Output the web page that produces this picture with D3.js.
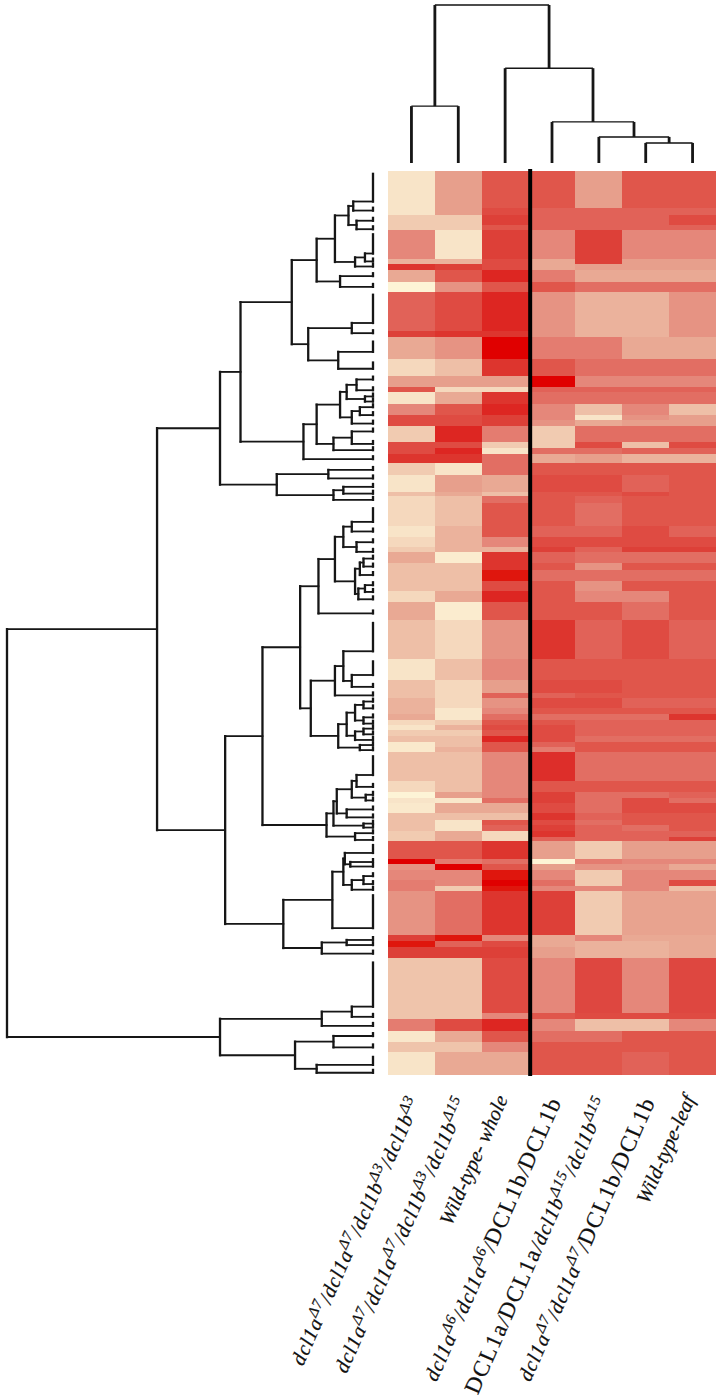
<!DOCTYPE html>
<html><head><meta charset="utf-8">
<style>html,body{margin:0;padding:0;background:#fff}svg{display:block}</style>
<script src="https://cdn.jsdelivr.net/npm/d3@7/dist/d3.min.js"></script>
</head><body><div id="c"></div>
<script>
// Sample labels; ^...^ marks a superscript
const sampleLabels = [
  "dcl1a^Δ7^/dcl1a^Δ7^/dcl1b^Δ3^/dcl1b^Δ3^",
  "dcl1a^Δ7^/dcl1a^Δ7^/dcl1b^Δ3^/dcl1b^Δ15^",
  "Wild-type- whole",
  "dcl1a^Δ6^/dcl1a^Δ6^/DCL1b/DCL1b",
  "DCL1a/DCL1a/dcl1b^Δ15^/dcl1b^Δ15^",
  "dcl1a^Δ7^/dcl1a^Δ7^/DCL1b/DCL1b",
  "Wild-type-leaf"
];
// Colour ramp on the 0-10 expression value
const rampValues = [0,1,2,3,4,5,6,7,8,9,10];
const rampColors = ["#fdf4d6","#f8e4c8","#f1cbb1","#ebb29c","#e79f8c","#e5877a","#e26e63","#e0564c","#dd4039","#dd2822","#e00500"];
// Gene row at which each consecutive band of equal values ends (aligned with bandValues)
const bandEnds = [6.6,7.7,9.6,10.5,15.5,16.5,17.5,19.6,21.5,28.3,29.3,33.3,36.2,38.2,39.1,41.3,43.1,44.1,45.1,48.0,49.1,50,51.7,53.8,
  56.9,57.6,58.8,62.9,64.7,66.6,67.5,69.4,70.6,72.5,74.4,76.3,79.5,86.4,90.1,92.4,93.3,95.1,96.1,97.1,98.0,98.9,100,101,102,102.9,108,
  109.9,110.9,111.8,113.7,114.9,115.8,116.8,117.8,118.6,121.7,122.7,123.7,125.5,126.5,127.4,135.2,136.3,137.4,139.3,149.1,150,152.2,154.1,155.9,160];
// Values per band, columns in sample order
const bandValues = [
[1,4,7,7,4,7,7],[1,4,7.5,6.5,6.5,6.5,6.5],[2,2,8,6.5,6.5,6.5,7.5],[2,2,7,6.5,6.5,6.5,6.5],
[5,1,8,5,8,5,5],[3,3,7.5,3.5,8,4,4],[8.5,8,7.5,3.5,4,4,4],[3.5,7,9,5.5,3.5,3.5,3.5],[0,4.5,7,7,6,6,6],
[6.5,7.5,9,4.5,3,3,4.5],[8,8.5,8.5,4.5,3,3,4.5],[3.5,4.5,10,5.5,5.5,3.5,3.5],[1.5,2.5,8.5,7,6,6,6],
[4,4,4,10,5,5,5],[7,1.5,1.5,6.5,6.5,6.5,6.5],[1,3.5,8.5,6,6,6,6],[5,7,9,5,2.5,5,2.5],[7.5,7.5,8,5,1,4.5,4],
[7.5,7.5,8,4.5,3.5,4,4],[2,9,5.5,2,6,6,6],[7.5,7.5,2,2,7.5,2.5,7.5],[7.5,9,1,6,6,6.5,6.5],[8.5,8.5,6,3.5,4,3,3],
[2,1,6,7,7,7,7],
[1,4,3.5,7.5,7.5,6.5,7],[2.5,3.5,2.5,7,7,7.5,7],[1.5,2.5,6,7,6.5,7,7],
[1.5,2.5,7,7,6,7,7],[1,3,7,6.5,6.5,7.5,6.5],[1.5,3,5,7.5,7.5,7.5,7.5],[2,3,3,8,6.5,8,8],[3.5,0.5,8.5,6.5,6,6,6],
[2.5,2.5,8.5,7,4.5,7,7],[2.5,2.5,9.5,6,6,6,6],[2.5,2.5,7.5,7,4.5,7,7],[1.5,3.5,9,7,5,5,7],[3.5,0.5,7,7,7,6,7],
[2.5,1.5,4.5,8.5,6.5,7.5,6.5],[1,2.5,5,7,7,7,7],[2.5,1.5,4,7.5,7.5,7,7],[2.5,1.5,6.5,6.5,7,7,7],[3,1.5,4.5,7.5,7.5,6.5,6.5],
[3,0.8,5,7,7,7,7],[3.5,0.8,6,6,6,6,8.5],[1.5,2,7,7,6.5,6.5,6.5],[1,3,7.5,7.5,6.5,6.5,6.5],[2,2,7,7.5,6.5,6.5,6.5],
[2.5,2.5,9,7.5,6,6,6],[0.7,2.5,7,6.5,7,7,7],[0.7,3,7,5.5,7,7,7],[2.5,2.5,5,8.7,6,6,6],
[1.5,2.5,5,7,7,7,7],[0,4,5,8,6,6,6.5],[1,0.8,6,8,6,7.5,6],[0.7,3.5,3.5,7.5,6,7.5,7.5],[2.5,2.5,2.5,8.5,6.5,7,7],
[2.5,1,7,7.5,6,7,7],[2.5,1,6.5,8,6.5,6,7],[2,3.5,1.5,8.5,6.5,6.5,6.5],[2,3.5,1.5,6.5,6.5,6.5,8],[7,7,8.5,4,2,4,4],
[10,5.5,6,0,5.5,5,5],[4.5,10,7,4,4.5,4.5,3.5],[5,5,9.5,5,2,5,5],[5.5,5,10,6,2,5,7.5],[5.5,2,9.5,5,5,5,2.5],
[4.5,6,8.5,8,2,3.8,3.8],[8,9.5,5,3.5,5,3.5,3.5],[9.5,6.5,7.5,3.5,3,3,3.5],[8,8,8,4,3,3,3.5],
[2.3,2.3,7.5,5,7.7,5,7.7],[2.3,2.3,5,7,7.5,7.5,7.5],[5.5,7.5,9,5,2.5,2.5,5],[0.8,3.5,7,6,6,7,7],[2.3,2.3,5,7,7,7,7],[1,3.5,3.5,7,7,6.5,7]
];
// Gene dendrogram: node = [height, child, child]; leaf = row; [from, to] = rows merged at zero height
const rowTree = [10,
 [5.90,
  [4.18,
   [3.62,
    [2.22,
     [1.54,
      [1.04,
       [0.67,[0.54,[0.5,5.4],7.0],[0.45,8.8,10.3]],
       [0.49,[0.22,[11.2,14.6],16.0],16.9]],
      [0.90,18.6,20.5]],
     [1.77,[0.58,[21.9,26.9],28.7],[0.95,[30.2,32.0],[33.9,35.0]]]],
    [1.90,
     [1.54,
      [0.90,
       [0.72,[0.45,36.9,38.8],[0.22,39.9,40.8]],
       [0.58,[0.36,41.8,43.2],44.7]],
      [1.08,[0.58,46.1,48.3],49.4]],
     51.0]],
   [2.63,[1.22,52.9,54.4],[1.08,[0.81,55.9,57.1],58.2]]],
  [4.04,
   [3.02,
    [1.99,
     [1.49,
      [1.04,
       [0.81,[0.58,[59.7,62.1],63.8],[0.45,65.7,67.4]],
       [0.49,[0.36,[0.26,68.6,70.0],71.5],[0.40,[0.22,73.3,74.5],75.8]]],
      78.3],
     [1.70,
      [1.04,[0.81,[80.0,85.0],[0.58,[86.8,89.2],91.3]],92.8],
      [0.95,
       [0.72,[0.49,[0.26,93.9,95.1],[0.26,96.7,97.8]],[0.49,[0.26,98.7,99.7],100.7]],
       [0.36,101.6,102.5]]]],
    [1.27,
     [1.08,
      [0.99,
       [0.58,[0.45,[103.6,106.9],109.0],[0.2,110.4,111.4]],
       [0.72,113.0,114.4]],
      [0.26,115.5,116.2]],
     [0.49,117.2,118.4]]],
   [2.45,
    [1.11,
     [0.81,[0.77,[119.3,120.7],[0.62,122.3,123.1]],[0.58,[0.26,124.8,126.2],127.2]],
     [128.2,134.0]],
    [1.40,[0.72,136.1,137.0],138.5]]]],
 [4.18,
  [1.40,[0.58,[140.1,147.9],149.7],151.3],
  [2.13,[1.08,153.1,155.1],[1.54,[156.8,158.2],159.6]]]
];
// Sample dendrogram: node = [height, child, child]; leaf = column index
const colTree = [10,[3.6,0,1],[6.0,2,[2.6,3,[1.65,4,[1.27,5,6]]]]];

const W=721,H=1398;
const svg=d3.select("#c").append("svg").attr("width",W).attr("height",H);
const defs=svg.append("defs");
defs.append("filter").attr("id","soft").attr("x","-2%").attr("y","-2%").attr("width","104%").attr("height","104%")
  .append("feGaussianBlur").attr("stdDeviation",0.7);
defs.append("filter").attr("id","softer").attr("filterUnits","userSpaceOnUse").attr("x",0).attr("y",0).attr("width",W).attr("height",H)
  .append("feGaussianBlur").attr("stdDeviation",0.55);

const y=d3.scaleLinear().domain([0,160]).range([171,1075]);
const x=d3.scaleBand().domain(d3.range(sampleLabels.length)).range([388,716]);
const color=d3.scaleLinear().domain(rampValues).range(rampColors).clamp(true);
const rowH=d3.scaleLinear().domain([0,10]).range([373,7]);
const colH=d3.scaleLinear().domain([0,10]).range([163,5]);

// Heatmap
const cells=[];
bandValues.forEach((vals,i)=>vals.forEach((v,j)=>cells.push({i,j,v})));
const bandTop=i=>y(i?bandEnds[i-1]:0);
const hm=svg.append("g").attr("filter","url(#soft)").attr("shape-rendering","crispEdges");
hm.selectAll("rect").data(cells).join("rect")
  .attr("x",d=>x(d.j)).attr("width",x.bandwidth()+0.3)
  .attr("y",d=>bandTop(d.i)).attr("height",d=>y(bandEnds[d.i])-bandTop(d.i)+0.3)
  .attr("fill",d=>color(d.v));

// Separator between whole-plant and leaf samples
svg.append("line").attr("x1",x(3)+1.6).attr("x2",x(3)+1.6).attr("y1",y(0)-2).attr("y2",y(160)+1)
  .attr("stroke","#050505").attr("stroke-width",4).attr("filter","url(#softer)");

// Gene dendrogram
const rowLines=[];
function walkRow(n){
  if(typeof n==="number"){ rowLines.push({x1:0,x2:0,y1:n-0.5,y2:n,k:"leaf"}); return {h:0,r:n}; }
  if(n.length===2){ rowLines.push({x1:0,x2:0,y1:n[0],y2:n[1],k:"leaf"}); return {h:0,r:n[1]}; }
  const kids=[walkRow(n[1]),walkRow(n[2])];
  const h=n[0];
  rowLines.push({x1:h,x2:h,y1:kids[0].r,y2:kids[1].r,k:"v"});
  kids.forEach(c=>rowLines.push({x1:h,x2:c.h,y1:c.r,y2:c.r,k:"h"}));
  return {h,r:(kids[0].r+kids[1].r)/2};
}
walkRow(rowTree);
svg.append("g").attr("filter","url(#softer)").attr("stroke","#141414").attr("stroke-linecap","square")
 .selectAll("line").data(rowLines).join("line")
 .attr("x1",d=>rowH(d.x1)).attr("x2",d=>rowH(d.x2)).attr("y1",d=>y(d.y1)).attr("y2",d=>y(d.y2))
 .attr("stroke-width",d=>d.k==="h"?1.8:2.3);

// Sample dendrogram
const colLines=[];
function walkCol(n){
  if(typeof n==="number") return {h:0,c:x(n)+x.bandwidth()/2};
  const kids=[walkCol(n[1]),walkCol(n[2])];
  const h=n[0];
  colLines.push({x1:kids[0].c,x2:kids[1].c,y1:h,y2:h,k:"h"});
  kids.forEach(c=>colLines.push({x1:c.c,x2:c.c,y1:h,y2:c.h,k:"v"}));
  return {h,c:(kids[0].c+kids[1].c)/2};
}
walkCol(colTree);
svg.append("g").attr("filter","url(#softer)").attr("stroke","#141414")
 .selectAll("line").data(colLines).join("line")
 .attr("x1",d=>d.x1).attr("x2",d=>d.x2).attr("y1",d=>colH(d.y1)).attr("y2",d=>colH(d.y2))
 .attr("stroke-width",d=>d.k==="h"?1.4:2.8);

// Labels
const labels=svg.append("g").attr("font-family","'Liberation Serif',serif").attr("font-size",20.5)
  .attr("font-style","italic").attr("fill","#111").attr("stroke","#111").attr("stroke-width",0.2);
sampleLabels.forEach((s,j)=>{
  const genotype=s.includes("/");
  const t=labels.append("text").attr("text-anchor","end")
    .attr("letter-spacing",genotype?0.85:0)
    .attr("transform",`translate(${x(j)+x.bandwidth()/2+(genotype?10:3)},${genotype?1101:1099}) rotate(-66)`);
  let pending=0;
  s.split("^").forEach((part,k)=>{
    if(!part) return;
    if(k%2){
      t.append("tspan").text(part).attr("font-size",15).attr("dy",-8);
      pending=8;
      return;
    }
    part.split(/(DCL1[ab])/).forEach(tok=>{
      if(!tok) return;
      const ts=t.append("tspan").text(tok);
      if(pending){ ts.attr("dy",pending); pending=0; }
      if(/^DCL/.test(tok)) ts.attr("font-size",23).attr("font-style","normal").attr("letter-spacing",1.5);
    });
  });
});
</script></body></html>
